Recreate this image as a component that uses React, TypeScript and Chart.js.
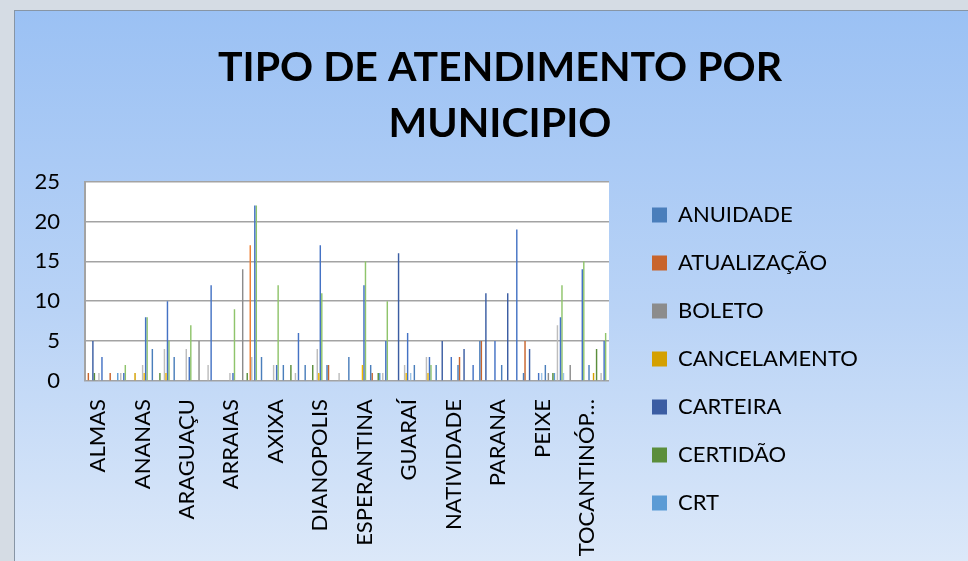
import React, { useEffect, useRef } from 'react';
import { Chart, registerables } from 'chart.js';

Chart.register(...registerables);

const TITLE_LINES = ['TIPO DE ATENDIMENTO POR', 'MUNICIPIO'];

// 24 municipalities; only every other name is printed on the axis (the rest are unknown)
const CATEGORIES = [
  'ALMAS', '', 'ANANAS', '', 'ARAGUAÇU', '', 'ARRAIAS', '', 'AXIXA', '',
  'DIANOPOLIS', '', 'ESPERANTINA', '', 'GUARAÍ', '', 'NATIVIDADE', '',
  'PARANA', '', 'PEIXE', '', 'TOCANTINÓPOLIS', '',
];
const LABELLED_INDEXES = [0, 2, 4, 6, 8, 10, 12, 14, 16, 18, 20, 22];

const Y_TICKS = [0, 5, 10, 15, 20, 25];

const N = null;
const ANUIDADE =     [N, N, N, 4, 3, N, N, N, 3, 2, 2, 2, 3, 2, N, 2, 2, 2, 5, 2, 1, 2, N, 2];
const ATUALIZACAO =  [1, 1, N, N, N, N, N, N, N, N, N, 2, N, 1, N, N, N, 3, 5, N, 5, N, N, N];
const BOLETO =       [N, N, N, N, N, 5, N, 14, N, N, N, N, N, N, N, N, N, N, N, N, N, 1, 2, N];
const CANCELAMENTO = [N, N, 1, N, N, N, N, N, N, N, N, N, N, N, N, N, N, N, N, N, N, N, N, 1];
const CARTEIRA =     [5, N, N, N, N, N, N, N, N, N, N, N, N, N, 16, N, 5, 4, 11, 11, 4, N, N, N];
const CERTIDAO =     [1, N, N, 1, N, N, N, 1, N, 2, 2, N, N, 1, N, N, N, N, N, N, N, 1, N, 4];
const CRT =          [N, 1, N, N, N, N, N, N, N, N, N, N, N, 1, N, N, N, N, N, N, N, 1, N, N];
// further series whose legend entries are cut off in the original
const SERIES_8 =     [N, N, N, N, N, N, N, 17, N, N, N, N, N, N, N, N, N, N, N, N, N, N, N, N];
const SERIES_9 =     [1, 1, 2, 4, 4, 2, 1, 3, 2, 1, 4, 1, N, 1, 2, 3, N, N, N, N, N, 7, N, 1];
const SERIES_10 =    [N, N, 1, 1, N, N, N, N, N, N, 1, N, 2, N, 1, 1, N, N, N, N, N, N, N, N];
const SERIES_11 =    [3, 1, 8, 10, 3, 12, 1, 22, 2, 6, 17, N, 12, 5, 6, 3, 3, 2, 5, 19, 1, 8, 14, 5];
const SERIES_12 =    [N, 2, 8, 5, 7, N, 9, 22, 12, N, 11, N, 15, 10, N, 2, N, N, N, N, N, 12, 15, 6];
const SERIES_13 =    [N, N, N, N, N, N, N, N, N, N, N, N, N, N, 1, N, N, N, N, N, 1, 1, N, N];

const SERIES = [
  { label: 'ANUIDADE', data: ANUIDADE, color: '#4A7EBB' },
  { label: 'ATUALIZAÇÃO', data: ATUALIZACAO, color: '#C8642C' },
  { label: 'BOLETO', data: BOLETO, color: '#8C8C8C' },
  { label: 'CANCELAMENTO', data: CANCELAMENTO, color: '#D4A000' },
  { label: 'CARTEIRA', data: CARTEIRA, color: '#3B5DA3' },
  { label: 'CERTIDÃO', data: CERTIDAO, color: '#5B8E3B' },
  { label: 'CRT', data: CRT, color: '#5B9BD5' },
  { label: '', data: SERIES_8, color: '#ED7D31' },
  { label: '', data: SERIES_9, color: '#BDBDBD' },
  { label: '', data: SERIES_10, color: '#F2B800' },
  { label: '', data: SERIES_11, color: '#4472C4' },
  { label: '', data: SERIES_12, color: '#8FC46B' },
  { label: '', data: SERIES_13, color: '#9DC3E6' },
];
const LEGEND_COUNT = 7;

// canvas is wider than the view and shifted left so the title stays centred
const SHIFT = 515;
const CW = 2000;
const CH = 696;
const PLOT_LEFT = 70 + SHIFT;
const PLOT_RIGHT = 594 + SHIFT;
const PLOT_BOTTOM = 370;
const LEGEND_GAP = 17;
const FONT = 'Lato, "Open Sans", sans-serif';
const GRID = '#A3A3A3';

// axis-label placement (label i sits at value i on this helper axis)
const LABEL_AXIS_MIN = -0.585;
const LABEL_AXIS_MAX = 22.99;

const shortLabel = (s: string) => (s && s.length > 11 ? s.slice(0, 10) + '…' : s);

const whitePlot = {
  id: 'whitePlot',
  beforeDraw(chart: any) {
    const { ctx, chartArea } = chart;
    if (!chartArea) return;
    ctx.save();
    ctx.fillStyle = '#FFFFFF';
    ctx.fillRect(chartArea.left, chartArea.top, chartArea.right - chartArea.left, chartArea.bottom - chartArea.top);
    ctx.restore();
  },
};

export default function App() {
  const ref = useRef<HTMLCanvasElement | null>(null);

  useEffect(() => {
    if (!ref.current) return;
    const chart = new Chart(ref.current, {
      type: 'bar',
      data: {
        labels: CATEGORIES,
        datasets: SERIES.map((s) => ({
          label: s.label,
          data: s.data,
          backgroundColor: s.color,
          borderColor: s.color,
          borderWidth: 0,
          categoryPercentage: 0.9,
          barPercentage: 0.95,
        })),
      },
      options: {
        responsive: false,
        animation: false,
        devicePixelRatio: 1,
        layout: { padding: 0 },
        plugins: {
          title: {
            display: true,
            text: TITLE_LINES,
            color: '#000000',
            font: { family: FONT, size: 41, weight: 'bold', lineHeight: 1.36 },
            padding: { top: 29, bottom: 30 },
          },
          legend: {
            position: 'right',
            align: 'center',
            labels: {
              boxWidth: 15,
              boxHeight: 15,
              padding: 26,
              color: '#000000',
              font: { family: FONT, size: 22 },
              filter: (item: any) => item.datasetIndex < LEGEND_COUNT,
            },
          },
          tooltip: { enabled: false },
        },
        scales: {
          x: {
            display: false,
          },
          xl: {
            type: 'linear',
            position: 'bottom',
            offset: false,
            min: LABEL_AXIS_MIN,
            max: LABEL_AXIS_MAX,
            afterBuildTicks: (s: any) => {
              s.ticks = LABELLED_INDEXES.map((v) => ({ value: v }));
            },
            grid: { display: false, drawTicks: false, offset: false },
            border: { display: false },
            ticks: {
              autoSkip: false,
              maxRotation: 90,
              minRotation: 90,
              padding: 18,
              color: '#000000',
              font: { family: FONT, size: 22 },
              callback: (v: any) => shortLabel(CATEGORIES[v]),
            },
            afterFit: (s: any) => {
              s.height = CH - PLOT_BOTTOM;
            },
          },
          y: {
            min: Y_TICKS[0],
            max: Y_TICKS[Y_TICKS.length - 1],
            ticks: {
              stepSize: 5,
              padding: 25,
              color: '#000000',
              font: { family: FONT, size: 22 },
            },
            grid: { color: GRID, lineWidth: 1.5, drawTicks: false },
            border: { display: true, color: GRID, width: 2 },
            afterFit: (s: any) => {
              s.width = PLOT_LEFT;
            },
          },
          gap: {
            type: 'linear',
            position: 'right',
            weight: 0,
            display: true,
            grid: { display: false, drawTicks: false },
            ticks: { display: false },
            border: { display: false },
            afterFit: (s: any) => {
              s.width = LEGEND_GAP;
            },
          },
          pad: {
            type: 'linear',
            position: 'right',
            weight: 2000,
            display: true,
            grid: { display: false, drawTicks: false },
            ticks: { display: false },
            border: { display: false },
            afterFit: (s: any) => {
              const lw = s.chart.legend ? s.chart.legend.width : 240;
              s.width = Math.max(0, CW - PLOT_RIGHT - LEGEND_GAP - lw);
            },
          },
        },
      } as any,
      plugins: [whitePlot],
    });
    return () => chart.destroy();
  }, []);

  return (
    <div style={{ position: 'fixed', inset: 0, background: '#D5DCE4', overflow: 'hidden' }}>
      <div
        style={{
          position: 'absolute',
          left: 14,
          top: 10,
          width: 1000,
          height: 720,
          border: '1px solid #8795A5',
          background: 'linear-gradient(180deg, #9BC1F4 0px, #B9D3F6 300px, #DDE9F9 560px)',
          overflow: 'hidden',
        }}
      >
        <canvas
          ref={ref}
          width={CW}
          height={CH}
          style={{ position: 'absolute', left: -SHIFT, top: 0, width: CW, height: CH, display: 'block' }}
        />
      </div>
    </div>
  );
}
